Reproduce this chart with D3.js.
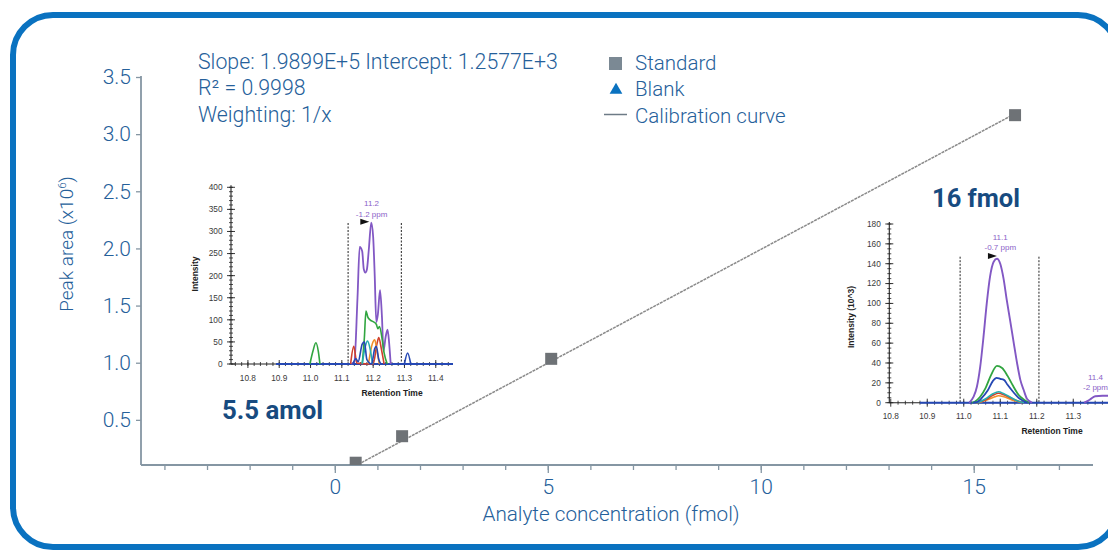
<!DOCTYPE html>
<html><head><meta charset="utf-8">
<script src="https://cdn.jsdelivr.net/npm/d3@7"></script>
<style>
body{margin:0;background:#fff;}
svg{display:block;}
</style></head><body>
<svg id="c" width="1108" height="551"></svg>
<script>
// ---------------- data ----------------
const standardConc = [0.49, 1.58, 5.08, 15.97];
const standardArea = [0.125, 0.357, 1.034, 3.166];   // x10^6
const calSlope = 1.9899e5, calIntercept = 1.2577e3;   // peak area per fmol
const curveRange = [0, 16];
const yTickValues = [0.5, 1.0, 1.5, 2.0, 2.5, 3.0, 3.5];
const xMajorTicks = [0, 5, 10, 15];
const xMinorTicks = d3.range(-4, 18);
const statsLines = ["Slope: 1.9899E+5 Intercept: 1.2577E+3", "R\u00B2 = 0.9998", "Weighting: 1/x"];
const legendLabels = ["Standard", "Blank", "Calibration curve"];
const xTitle = "Analyte concentration (fmol)";
const yTitle = "Peak area (x10";
const lowLabel = "5.5 amol", highLabel = "16 fmol";

// Inset A : 5.5 amol chromatogram (intensity)
const lowYTicks = [0, 50, 100, 150, 200, 250, 300, 350, 400];
const lowXTicks = [10.8, 10.9, 11.0, 11.1, 11.2, 11.3, 11.4];
const lowWindow = [11.12, 11.29];
const lowPeakLabel = ["11.2", "-1.2 ppm"];
const lowPurple = [[11.13,0],[11.14,5],[11.15,150],[11.157,265],[11.165,255],[11.17,215],[11.175,207],[11.18,214],[11.186,258],[11.194,320],[11.2,288],[11.205,200],[11.21,95],[11.215,112],[11.222,167],[11.228,108],[11.233,30],[11.24,62],[11.246,78],[11.251,48],[11.256,0]];
const lowGreen1 = [[10.998,0],[11.008,30],[11.017,48],[11.025,28],[11.03,0]];
const lowGreen2 = [[11.165,0],[11.172,60],[11.177,120],[11.183,106],[11.19,100],[11.2,96],[11.21,90],[11.215,80],[11.22,85],[11.228,60],[11.235,25],[11.245,0]];
const lowRed = [[11.128,0],[11.138,40],[11.148,2],[11.2,0],[11.212,45],[11.218,60],[11.226,35],[11.235,0]];
const lowOrange = [[11.185,0],[11.197,45],[11.205,55],[11.212,30],[11.22,0]];
const lowTeal = [[11.165,0],[11.175,40],[11.182,52],[11.19,35],[11.198,0]];
const lowBlue1 = [[11.135,0],[11.145,12],[11.152,5],[11.165,45],[11.172,50],[11.18,10],[11.195,0],[11.205,35],[11.21,40],[11.218,10],[11.225,0]];
const lowBlue2 = [[11.3,0],[11.31,25],[11.32,0]];
const lowBaseline = [10.89, 11.455];

// Inset B : 16 fmol chromatogram (intensity, 10^3)
const highYTicks = [0, 20, 40, 60, 80, 100, 120, 140, 160, 180];
const highXTicks = [10.8, 10.9, 11.0, 11.1, 11.2, 11.3];
const highWindow = [10.99, 11.206];
const highPeakLabel = ["11.1", "-0.7 ppm"];
const highNextLabel = ["11.4", "-2 ppm"];
const highPurple = [[11.015,0],[11.027,6],[11.036,16],[11.045,36],[11.054,66],[11.063,100],[11.072,127],[11.082,142],[11.091,145],[11.1,140],[11.109,125],[11.118,103],[11.127,83],[11.137,60],[11.146,40],[11.155,23],[11.164,13],[11.173,4],[11.187,0]];
const highPurpleTail = [[11.33,0],[11.345,3],[11.36,6.5],[11.38,7],[11.42,7]];
const highGreen = [[11.022,0],[11.03,1],[11.045,6],[11.06,15],[11.075,28],[11.091,37],[11.105,35],[11.12,27],[11.135,17],[11.15,8],[11.165,3],[11.178,0]];
const highBlue = [[11.025,0],[11.035,0.5],[11.05,5],[11.065,12],[11.08,22],[11.09,25],[11.1,24],[11.11,23],[11.12,18],[11.135,11],[11.15,5],[11.165,1.5],[11.175,0]];
const highTeal = [[11.03,0],[11.04,0.5],[11.06,4],[11.08,9],[11.095,11],[11.11,9],[11.13,5],[11.15,1.5],[11.165,0]];
const highRed = [[11.03,0],[11.04,0.5],[11.06,3],[11.08,7.5],[11.095,9.5],[11.11,8],[11.13,4.5],[11.15,1.5],[11.165,0]];
const highOrange = [[11.035,0],[11.045,0.5],[11.065,3],[11.085,6],[11.095,7],[11.11,6],[11.13,3],[11.15,1],[11.16,0]];
const highBaseline = [10.88, 11.42];

// ---------------- styling / layout ----------------
const FONT = "Roboto, 'Open Sans', sans-serif";
const TXT = "#25609a";
const DARK = "#174b80";
const AXIS = "#8596a3";
const SANS = "'Liberation Sans', Arial, sans-serif";
const C = {purple:"#8258c4", green:"#31a540", red:"#d0402c", orange:"#f0902a", teal:"#25aeb0", blue:"#2548b4"};

const svg = d3.select("#c");

// frame
svg.append("rect").attr("x",13).attr("y",15).attr("width",1105).attr("height",532)
  .attr("rx",40).attr("ry",40).attr("fill","none").attr("stroke","#0a72c0").attr("stroke-width",6);

// main scales
const x = d3.scaleLinear().domain([-4.55, 17.8]).range([141, 1093]);
const y = d3.scaleLinear().domain([0.105, 3.5]).range([465, 77]);

svg.append("clipPath").attr("id","plot").append("rect")
  .attr("x",141).attr("y",60).attr("width",952).attr("height",405);

// y axis
const yAxis = d3.axisLeft(y).tickValues(yTickValues).tickFormat(d3.format(".1f")).tickSize(5).tickPadding(5);
const gy = svg.append("g").attr("transform","translate(141,0)").call(yAxis);
gy.select(".domain").attr("stroke",AXIS).attr("stroke-width",1.8).attr("d","M0,465V76");
gy.selectAll(".tick line").attr("stroke",AXIS).attr("stroke-width",1.3);
gy.selectAll(".tick text").attr("fill",TXT).attr("font-family",FONT).attr("font-weight",300).attr("font-size",21);

// x axis (minor + major)
const gxMinor = svg.append("g").attr("transform","translate(0,465)")
  .call(d3.axisBottom(x).tickValues(xMinorTicks).tickSize(5).tickFormat(""));
gxMinor.select(".domain").attr("stroke",AXIS).attr("stroke-width",1.8).attr("d","M141,0H1093");
gxMinor.selectAll(".tick line").attr("stroke",AXIS).attr("stroke-width",1.3);
const gx = svg.append("g").attr("transform","translate(0,465)")
  .call(d3.axisBottom(x).tickValues(xMajorTicks).tickSize(8).tickPadding(6).tickFormat(d3.format("d")));
gx.select(".domain").remove();
gx.selectAll(".tick line").attr("stroke",AXIS).attr("stroke-width",1.3);
gx.selectAll(".tick text").attr("fill",TXT).attr("font-family",FONT).attr("font-weight",300).attr("font-size",21);

// axis titles
svg.append("text").attr("x",611).attr("y",521).attr("text-anchor","middle")
  .attr("fill",TXT).attr("font-family",FONT).attr("font-weight",300).attr("font-size",20.7).text(xTitle);
const yt = svg.append("text").attr("transform","translate(73,244) rotate(-90)").attr("text-anchor","middle")
  .attr("fill",TXT).attr("font-family",FONT).attr("font-weight",300).attr("font-size",19);
yt.append("tspan").text(yTitle);
yt.append("tspan").attr("font-size",11.5).attr("dy",-7).text("6");
yt.append("tspan").attr("dy",7).text(")");

// calibration line
const plot = svg.append("g").attr("clip-path","url(#plot)");
const line = d3.line().x(d => x(d)).y(d => y((calSlope*d + calIntercept)/1e6));
plot.append("path").attr("d", line(curveRange)).attr("fill","none")
  .attr("stroke","#8a8a8a").attr("stroke-width",1.5).attr("stroke-dasharray","3,0.8");
plot.selectAll("rect.std").data(standardConc).join("rect").attr("class","std")
  .attr("x",(d)=>x(d)-6).attr("y",(d,i)=>y(standardArea[i])-6).attr("width",12).attr("height",12)
  .attr("fill","#6e7276");

// stats text
svg.append("g").selectAll("text").data(statsLines).join("text")
  .attr("x",198).attr("y",(d,i)=>69+i*26.3).attr("fill",TXT).attr("font-family",FONT)
  .attr("font-weight",300).attr("font-size",21.3).text(d=>d);

// legend
const lg = svg.append("g");
lg.selectAll("text").data(legendLabels).join("text")
  .attr("x",635).attr("y",(d,i)=>70+i*26.3).attr("fill",TXT).attr("font-family",FONT)
  .attr("font-weight",300).attr("font-size",20.5).text(d=>d);
lg.append("rect").attr("x",609).attr("y",57).attr("width",13).attr("height",13).attr("fill","#7b8994");
lg.append("path").attr("d",d3.symbol(d3.symbolTriangle,70)()).attr("transform","translate(616,90)").attr("fill","#0a72c0");
lg.append("line").attr("x1",604).attr("x2",627).attr("y1",114.5).attr("y2",114.5).attr("stroke","#6d7b86").attr("stroke-width",1.5);

// big labels
svg.append("text").attr("x",222).attr("y",419).attr("fill",DARK).attr("font-family",FONT)
  .attr("font-weight",700).attr("font-size",25.8).text(lowLabel);
svg.append("text").attr("x",932).attr("y",207).attr("fill",DARK).attr("font-family",FONT)
  .attr("font-weight",700).attr("font-size",25.5).text(highLabel);

// ---------------- inset drawer ----------------
function inset(cfg){
  const g = svg.append("g");
  const sx = d3.scaleLinear().domain(cfg.xDomain).range(cfg.xRange);
  const sy = d3.scaleLinear().domain(cfg.yDomain).range(cfg.yRange);
  const x0 = cfg.xRange[0], y0 = cfg.yRange[0];
  const ink = "#222";
  // dashed window
  cfg.window.forEach(w => g.append("line").attr("x1",sx(w)).attr("x2",sx(w))
     .attr("y1",cfg.windowTop).attr("y2",y0).attr("stroke","#222").attr("stroke-width",1).attr("stroke-dasharray","2,1.5"));
  // axes lines
  g.append("line").attr("x1",x0).attr("x2",x0).attr("y1",y0).attr("y2",cfg.yRange[1]-2).attr("stroke",ink).attr("stroke-width",1.1);
  g.append("line").attr("x1",x0).attr("x2",cfg.xRange[1]).attr("y1",y0).attr("y2",y0).attr("stroke",ink).attr("stroke-width",1.1);
  // y ticks
  const yMinor = d3.range(cfg.yDomain[0], cfg.yDomain[1]+1e-9, cfg.yMinorStep);
  g.selectAll("line.ym").data(yMinor).join("line").attr("class","ym")
    .attr("x1",x0-2).attr("x2",x0+2).attr("y1",d=>sy(d)).attr("y2",d=>sy(d)).attr("stroke",ink).attr("stroke-width",0.8);
  g.selectAll("line.yM").data(cfg.yTicks).join("line").attr("class","yM")
    .attr("x1",x0-4).attr("x2",x0+4).attr("y1",d=>sy(d)).attr("y2",d=>sy(d)).attr("stroke",ink).attr("stroke-width",0.9);
  g.selectAll("text.yl").data(cfg.yTicks).join("text").attr("class","yl")
    .attr("x",x0-8.5).attr("y",d=>sy(d)+2.9).attr("text-anchor","end").attr("font-family",SANS)
    .attr("font-size",8.3).attr("fill","#3a3a3a").text(d=>d);
  // x ticks
  const xMinor = d3.range(cfg.xMinorStart, cfg.xDomain[1], 0.02);
  g.selectAll("line.xm").data(xMinor).join("line").attr("class","xm")
    .attr("x1",d=>sx(d)).attr("x2",d=>sx(d)).attr("y1",y0-2).attr("y2",y0+2).attr("stroke",ink).attr("stroke-width",0.8);
  g.selectAll("line.xM").data(cfg.xTicks).join("line").attr("class","xM")
    .attr("x1",d=>sx(d)).attr("x2",d=>sx(d)).attr("y1",y0-4).attr("y2",y0+4).attr("stroke",ink).attr("stroke-width",0.9);
  g.selectAll("text.xl").data(cfg.xTicks).join("text").attr("class","xl")
    .attr("x",d=>sx(d)).attr("y",y0+16.5).attr("text-anchor","middle").attr("font-family",SANS)
    .attr("font-size",8.3).attr("fill","#3a3a3a").text(d=>d.toFixed(1));
  // titles
  g.append("text").attr("x",cfg.xTitlePos[0]).attr("y",cfg.xTitlePos[1]).attr("text-anchor","middle")
    .attr("font-family",SANS).attr("font-weight",700).attr("font-size",8.5).attr("fill","#222").text("Retention Time");
  g.append("text").attr("transform",`translate(${cfg.yTitlePos[0]},${cfg.yTitlePos[1]}) rotate(-90)`).attr("text-anchor","middle")
    .attr("font-family",SANS).attr("font-weight",700).attr("font-size",8.5).attr("fill","#222").text(cfg.yTitle);
  // traces
  const ln = d3.line().x(d=>sx(d[0])).y(d=>sy(d[1])).curve(d3.curveMonotoneX);
  g.append("path").attr("d", ln(cfg.baseline.map(t=>[t,0]))).attr("stroke",C.blue).attr("stroke-width",2).attr("fill","none");
  cfg.traces.forEach(t => g.append("path").attr("d", ln(t.data)).attr("fill","none")
     .attr("stroke",C[t.color]).attr("stroke-width",t.w||1.6).attr("stroke-linejoin","round"));
  // peak labels
  cfg.labels.forEach(l => {
    const lx = l.px !== undefined ? l.px : sx(l.t);
    l.lines.forEach((s,i) => g.append("text").attr("x",lx).attr("y",l.y+i*10.5).attr("text-anchor","middle")
      .attr("font-family",SANS).attr("font-size",8).attr("fill","#8a62c8").text(s));
  });
  if (cfg.marker){
    const mx = sx(cfg.marker[0]), my = cfg.marker[1];
    g.append("path").attr("d",`M${mx-5},${my-3}L${mx+4},${my}L${mx-5},${my+3}Z`).attr("fill","#111");
  }
}

inset({
  xDomain:[10.746, 11.455], xRange:[231, 453], yDomain:[0,400], yRange:[364, 187.3],
  yTicks: lowYTicks, yMinorStep:10, xTicks: lowXTicks, xMinorStart:10.76,
  window: lowWindow, windowTop:223,
  xTitlePos:[392, 396], yTitlePos:[198, 274], yTitle:"Intensity",
  baseline: lowBaseline,
  traces:[{data:lowPurple,color:"purple",w:1.8},{data:lowGreen1,color:"green"},{data:lowGreen2,color:"green"},
          {data:lowRed,color:"red"},{data:lowOrange,color:"orange"},{data:lowTeal,color:"teal"},
          {data:lowBlue1,color:"blue"},{data:lowBlue2,color:"blue"}],
  labels:[{t:11.195, y:206, lines:lowPeakLabel}],
  marker:[11.175, 221.7]
});

inset({
  xDomain:[10.796, 11.42], xRange:[889.3, 889.3+0.624*365], yDomain:[0,180], yRange:[402.7, 224],
  yTicks: highYTicks, yMinorStep:5, xTicks: highXTicks, xMinorStart:10.82,
  window: highWindow, windowTop:256.7,
  xTitlePos:[1052, 434], yTitlePos:[854, 317], yTitle:"Intensity (10^3)",
  baseline: highBaseline,
  traces:[{data:highPurple,color:"purple",w:1.9},{data:highPurpleTail,color:"purple",w:1.9},
          {data:highOrange,color:"orange"},{data:highRed,color:"red"},{data:highTeal,color:"teal"},
          {data:highGreen,color:"green",w:1.8},{data:highBlue,color:"blue",w:1.8}],
  labels:[{t:11.1, y:239.5, lines:highPeakLabel},{t:11.4, px:1095.5, y:379.5, lines:highNextLabel}],
  marker:[11.08, 256]
});
</script>
</body></html>
